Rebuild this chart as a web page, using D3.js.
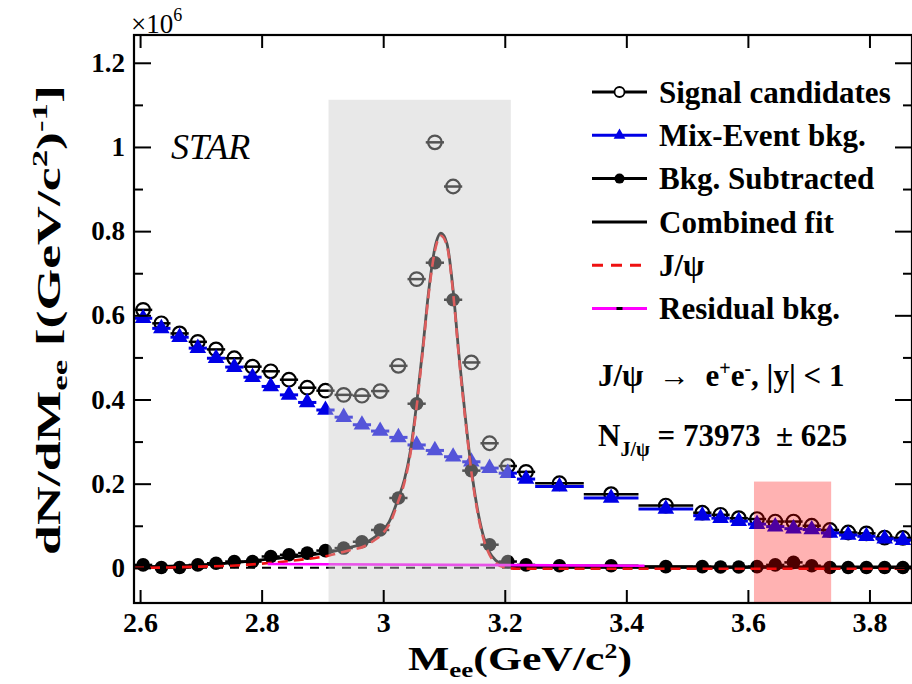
<!DOCTYPE html>
<html>
<head>
<meta charset="utf-8">
<script src="https://cdn.jsdelivr.net/npm/d3@7"></script>
<style>
body { margin: 0; background: #fff; }
svg text { font-family: "Liberation Serif", "Times New Roman", serif; fill: #000; }
</style>
</head>
<body>
<div id="chart"></div>
<script>
// bin edges (GeV/c^2) - 0.03 bins, three wide bins between 3.25 and 3.51
var binEdges = [2.59, 2.62, 2.65, 2.68, 2.71, 2.74, 2.77, 2.80, 2.83, 2.86, 2.89, 2.92, 2.95, 2.98,
    3.01, 3.04, 3.07, 3.10, 3.13, 3.16, 3.19, 3.22, 3.25, 3.33, 3.42, 3.51,
    3.54, 3.57, 3.60, 3.63, 3.66, 3.69, 3.72, 3.75, 3.78, 3.81, 3.84, 3.87];

// values in units of 10^6
var signalCand = [0.613, 0.581, 0.557, 0.537, 0.519, 0.498, 0.478, 0.467, 0.447, 0.428, 0.421,
    0.411, 0.409, 0.420, 0.480, 0.686, 1.011, 0.906, 0.488, 0.296, 0.242, 0.228,
    0.201, 0.175, 0.148,
    0.131, 0.126, 0.118, 0.116, 0.110, 0.110, 0.100, 0.090, 0.084, 0.082, 0.072, 0.071];
var mixEvent = [0.593, 0.569, 0.548, 0.522, 0.498, 0.477, 0.453, 0.431, 0.411, 0.393, 0.375,
    0.358, 0.340, 0.325, 0.310, 0.292, 0.279, 0.264, 0.252, 0.237, 0.225, 0.211,
    0.193, 0.166, 0.140,
    0.124, 0.118, 0.111, 0.104, 0.098, 0.093, 0.091, 0.083, 0.078, 0.075, 0.069, 0.066];
var bkgSub = [0.007, 0.001, 0.001, 0.007, 0.011, 0.015, 0.015, 0.027, 0.031, 0.035, 0.041,
    0.047, 0.062, 0.090, 0.166, 0.390, 0.725, 0.637, 0.231, 0.055, 0.015, 0.007,
    0.005, 0.005, 0.003,
    0.003, 0.002, 0.002, 0.003, 0.007, 0.013, 0.005, 0.001, 0.001, 0.001, 0.001, 0.001];

// fit curves
var fitX = [2.59, 2.65, 2.70, 2.75, 2.80, 2.85, 2.91, 2.94, 2.97, 2.985, 3.00, 3.01, 3.025, 3.035,
    3.045, 3.055, 3.065, 3.075, 3.085, 3.095, 3.105, 3.115, 3.125, 3.135, 3.145, 3.155,
    3.165, 3.175, 3.185, 3.20, 3.22, 3.30, 3.50, 3.87];
var fitCombined = [0.003, 0.004, 0.007, 0.012, 0.019, 0.026, 0.037, 0.047, 0.059, 0.072, 0.090, 0.110,
    0.166, 0.210, 0.280, 0.390, 0.520, 0.660, 0.760, 0.795, 0.770, 0.660, 0.500, 0.360,
    0.235, 0.140, 0.075, 0.037, 0.018, 0.006, 0.003, 0.002, 0.002, 0.002];
var fitJpsi = [0.000, 0.001, 0.003, 0.005, 0.010, 0.017, 0.029, 0.040, 0.052, 0.065, 0.083, 0.103,
    0.159, 0.203, 0.273, 0.383, 0.513, 0.653, 0.753, 0.789, 0.764, 0.654, 0.494, 0.354,
    0.229, 0.134, 0.069, 0.031, 0.012, 0.001, -0.002, -0.002, -0.002, -0.002];
var residX = [2.81, 3.43];
var residBkg = [0.009, 0.005];

// shaded windows
var signalWindow = [2.91, 3.21];
var signalWindowTop = 1.112;
var sideWindow = [3.61, 3.737];
var sideWindowTop = 0.205;

var xTicks = [2.6, 2.8, 3.0, 3.2, 3.4, 3.6, 3.8];
var xTickLabels = ["2.6", "2.8", "3", "3.2", "3.4", "3.6", "3.8"];
var yTicks = [0, 0.2, 0.4, 0.6, 0.8, 1.0, 1.2];
var yTickLabels = ["0", "0.2", "0.4", "0.6", "0.8", "1", "1.2"];
var yMinor = [0.1, 0.3, 0.5, 0.7, 0.9, 1.1];

var legendLabels = ["Signal candidates", "Mix-Event bkg.", "Bkg. Subtracted", "Combined fit", "J/\u03c8", "Residual bkg."];

// svg dims
var svgWidth = 912;
var svgHeight = 684;
var frame = { left: 134, top: 35, right: 912, bottom: 603 };

var svg = d3.select("#chart")
    .append("svg")
    .attr("width", svgWidth)
    .attr("height", svgHeight);

var x = d3.scaleLinear().domain([2.59, 3.87]).range([frame.left, frame.right]);
var y = d3.scaleLinear().domain([-0.0835, 1.266]).range([frame.bottom, frame.top]);

var bins = binEdges.slice(0, -1).map(function (lo, i) {
    return { lo: lo, hi: binEdges[i + 1], c: (lo + binEdges[i + 1]) / 2, s: signalCand[i], m: mixEvent[i], b: bkgSub[i] };
});

var plot = svg.append("g");

// zero line
plot.append("line")
    .attr("x1", x(2.59)).attr("x2", x(3.87))
    .attr("y1", y(0)).attr("y2", y(0))
    .attr("stroke", "#000").attr("stroke-width", 2)
    .attr("stroke-dasharray", "9,7");

function drawSeries(key, color, width) {
    plot.append("g").selectAll("line")
        .data(bins).enter().append("line")
        .attr("x1", d => x(d.lo)).attr("x2", d => x(d.hi))
        .attr("y1", d => y(d[key])).attr("y2", d => y(d[key]))
        .attr("stroke", color).attr("stroke-width", width);
}

// signal candidates
drawSeries("s", "#000", 2.5);
plot.append("g").selectAll("circle")
    .data(bins).enter().append("circle")
    .attr("cx", d => x(d.c)).attr("cy", d => y(d.s))
    .attr("r", 6.8)
    .attr("fill", "none").attr("stroke", "#000").attr("stroke-width", 2.2);

// mix-event
drawSeries("m", "#0000e6", 3);
plot.append("g").selectAll("path")
    .data(bins).enter().append("path")
    .attr("d", d3.symbol().type(d3.symbolTriangle).size(120))
    .attr("transform", d => "translate(" + x(d.c) + "," + y(d.m) + ")")
    .attr("fill", "#0000e6");

// bkg subtracted
drawSeries("b", "#000", 2.5);
plot.append("g").selectAll("circle")
    .data(bins).enter().append("circle")
    .attr("cx", d => x(d.c)).attr("cy", d => y(d.b))
    .attr("r", 6.8)
    .attr("fill", "#000");

// fits
var fitLine = d3.line().x(d => x(d[0])).y(d => y(d[1])).curve(d3.curveMonotoneX);

plot.append("path")
    .datum(fitX.map((v, i) => [v, fitCombined[i]]))
    .attr("d", fitLine)
    .attr("fill", "none").attr("stroke", "#000").attr("stroke-width", 2.8);

plot.append("path")
    .datum(fitX.map((v, i) => [v, fitJpsi[i]]))
    .attr("d", fitLine)
    .attr("fill", "none").attr("stroke", "#ee1111").attr("stroke-width", 2.6)
    .attr("stroke-dasharray", "10,6");

plot.append("path")
    .datum(residX.map((v, i) => [v, residBkg[i]]))
    .attr("d", fitLine)
    .attr("fill", "none").attr("stroke", "#ff00ff").attr("stroke-width", 2.6);

// shaded windows on top
svg.append("rect")
    .attr("x", x(signalWindow[0])).attr("width", x(signalWindow[1]) - x(signalWindow[0]))
    .attr("y", y(signalWindowTop)).attr("height", frame.bottom - y(signalWindowTop))
    .attr("fill", "#c8c8c8").attr("fill-opacity", 0.42);

svg.append("rect")
    .attr("x", x(sideWindow[0])).attr("width", x(sideWindow[1]) - x(sideWindow[0]))
    .attr("y", y(sideWindowTop)).attr("height", frame.bottom - y(sideWindowTop))
    .attr("fill", "#ff0000").attr("fill-opacity", 0.3);

// frame
svg.append("rect")
    .attr("x", frame.left).attr("y", frame.top)
    .attr("width", frame.right - frame.left).attr("height", frame.bottom - frame.top)
    .attr("fill", "none").attr("stroke", "#000").attr("stroke-width", 2.2);

// axes
function styleAxis(g) {
    g.select(".domain").remove();
    g.selectAll(".tick line").attr("stroke", "#000").attr("stroke-width", 2);
    g.selectAll("text").style("font-weight", "bold");
}

var leftAxis = d3.axisLeft(y).tickValues(yTicks).tickSize(-17).tickPadding(9)
    .tickFormat((d, i) => yTickLabels[i]);
svg.append("g").attr("transform", "translate(" + frame.left + ",0)").call(leftAxis).call(styleAxis)
    .attr("font-family", null)
    .selectAll("text").attr("font-size", 27);
svg.append("g").attr("transform", "translate(" + frame.left + ",0)")
    .call(d3.axisLeft(y).tickValues(yMinor).tickSize(-9).tickFormat("")).call(styleAxis);

svg.append("g").attr("transform", "translate(" + frame.right + ",0)")
    .call(d3.axisRight(y).tickValues(yTicks).tickSize(-17).tickFormat("")).call(styleAxis);
svg.append("g").attr("transform", "translate(" + frame.right + ",0)")
    .call(d3.axisRight(y).tickValues(yMinor).tickSize(-9).tickFormat("")).call(styleAxis);

var bottomAxis = d3.axisBottom(x).tickValues(xTicks).tickSize(-13).tickPadding(9)
    .tickFormat((d, i) => xTickLabels[i]);
svg.append("g").attr("transform", "translate(0," + frame.bottom + ")").call(bottomAxis).call(styleAxis)
    .attr("font-family", null)
    .selectAll("text").attr("font-size", 28);
svg.append("g").attr("transform", "translate(0," + frame.top + ")")
    .call(d3.axisTop(x).tickValues(xTicks).tickSize(-13).tickFormat("")).call(styleAxis);

// x10^6
var mult = svg.append("text").attr("x", 131).attr("y", 33).attr("font-size", 27);
mult.append("tspan").text("\u00d710");
mult.append("tspan").attr("dy", -12).attr("font-size", 18).text("6");

// axis titles - stretched along their length like the original
var xTitleG = svg.append("g");
var xTitle = xTitleG.append("text").attr("x", 0).attr("y", 0).attr("text-anchor", "middle")
    .attr("font-size", 34).style("font-weight", "bold");
xTitle.append("tspan").text("M");
xTitle.append("tspan").attr("dy", 7).attr("font-size", 21).text("ee");
xTitle.append("tspan").attr("dy", -7).text("(GeV/c");
xTitle.append("tspan").attr("dy", -12).attr("font-size", 20).text("2");
xTitle.append("tspan").attr("dy", 12).text(")");
var xw = xTitle.node().getBBox().width;
xTitleG.attr("transform", "translate(520,670) scale(" + (224 / xw) + ",1)");

var yTitleG = svg.append("g");
var yTitle = yTitleG.append("text")
    .attr("text-anchor", "middle").attr("font-size", 34).style("font-weight", "bold");
yTitle.append("tspan").text("dN/dM");
yTitle.append("tspan").attr("dy", 7).attr("font-size", 22).text("ee");
yTitle.append("tspan").attr("dy", -7).text(" [(GeV/c");
yTitle.append("tspan").attr("dy", -13).attr("font-size", 22).text("2");
yTitle.append("tspan").attr("dy", 13).text(")");
yTitle.append("tspan").attr("dy", -13).attr("font-size", 22).text("-1");
yTitle.append("tspan").attr("dy", 13).text("]");
var yw = yTitle.node().getBBox().width;
yTitleG.attr("transform", "translate(60,320) rotate(-90) scale(" + (470 / yw) + ",1)");

// STAR
svg.append("text").attr("x", 171).attr("y", 159)
    .attr("font-size", 36).style("font-style", "italic")
    .text("STAR");

// legend
var lx0 = 592, lx1 = 647, ltx = 659, ly0 = 92, lstep = 43.3;
var legend = svg.append("g");
legendLabels.forEach(function (lab, i) {
    var ly = ly0 + i * lstep;
    var color = ["#000", "#0000e6", "#000", "#000", "#ee1111", "#ff00ff"][i];
    var ln = legend.append("line")
        .attr("x1", lx0).attr("x2", lx1).attr("y1", ly).attr("y2", ly)
        .attr("stroke", color).attr("stroke-width", 3);
    if (i === 4) ln.attr("stroke-dasharray", "11,8");
    var mx = (lx0 + lx1) / 2;
    if (i === 0) legend.append("circle").attr("cx", mx).attr("cy", ly).attr("r", 5)
        .attr("fill", "#fff").attr("stroke", "#000").attr("stroke-width", 1.8);
    if (i === 1) legend.append("path").attr("d", d3.symbol().type(d3.symbolTriangle).size(60))
        .attr("transform", "translate(" + mx + "," + ly + ")").attr("fill", "#0000e6");
    if (i === 2) legend.append("circle").attr("cx", mx).attr("cy", ly).attr("r", 5).attr("fill", "#000");
    if (i === 5) legend.append("line").attr("x1", mx - 3).attr("x2", mx + 3).attr("y1", ly).attr("y2", ly)
        .attr("stroke", "#000").attr("stroke-width", 3);
    legend.append("text").attr("x", ltx).attr("y", ly).attr("dy", "0.35em")
        .attr("font-size", 31).style("font-weight", "bold").text(lab);
});

// annotations
var decay = svg.append("text").attr("x", 598).attr("y", 386).attr("font-size", 31).style("font-weight", "bold");
decay.append("tspan").text("J/\u03c8 ");
decay.append("tspan").style("font-weight", "normal").text("\u00a0\u2192\u00a0 ");
decay.append("tspan").text("e");
decay.append("tspan").attr("dy", -11).attr("font-size", 20).text("+");
decay.append("tspan").attr("dy", 11).text("e");
decay.append("tspan").attr("dy", -11).attr("font-size", 20).text("-");
decay.append("tspan").attr("dy", 11).text(", |y| < 1");

var yieldTxt = svg.append("text").attr("x", 598).attr("y", 446).attr("font-size", 31).style("font-weight", "bold");
yieldTxt.append("tspan").text("N");
yieldTxt.append("tspan").attr("dy", 10).attr("font-size", 20).text("J/\u03c8");
yieldTxt.append("tspan").attr("dy", -10).text(" = 73973 \u00a0\u00b1 625");
</script>
</body>
</html>
